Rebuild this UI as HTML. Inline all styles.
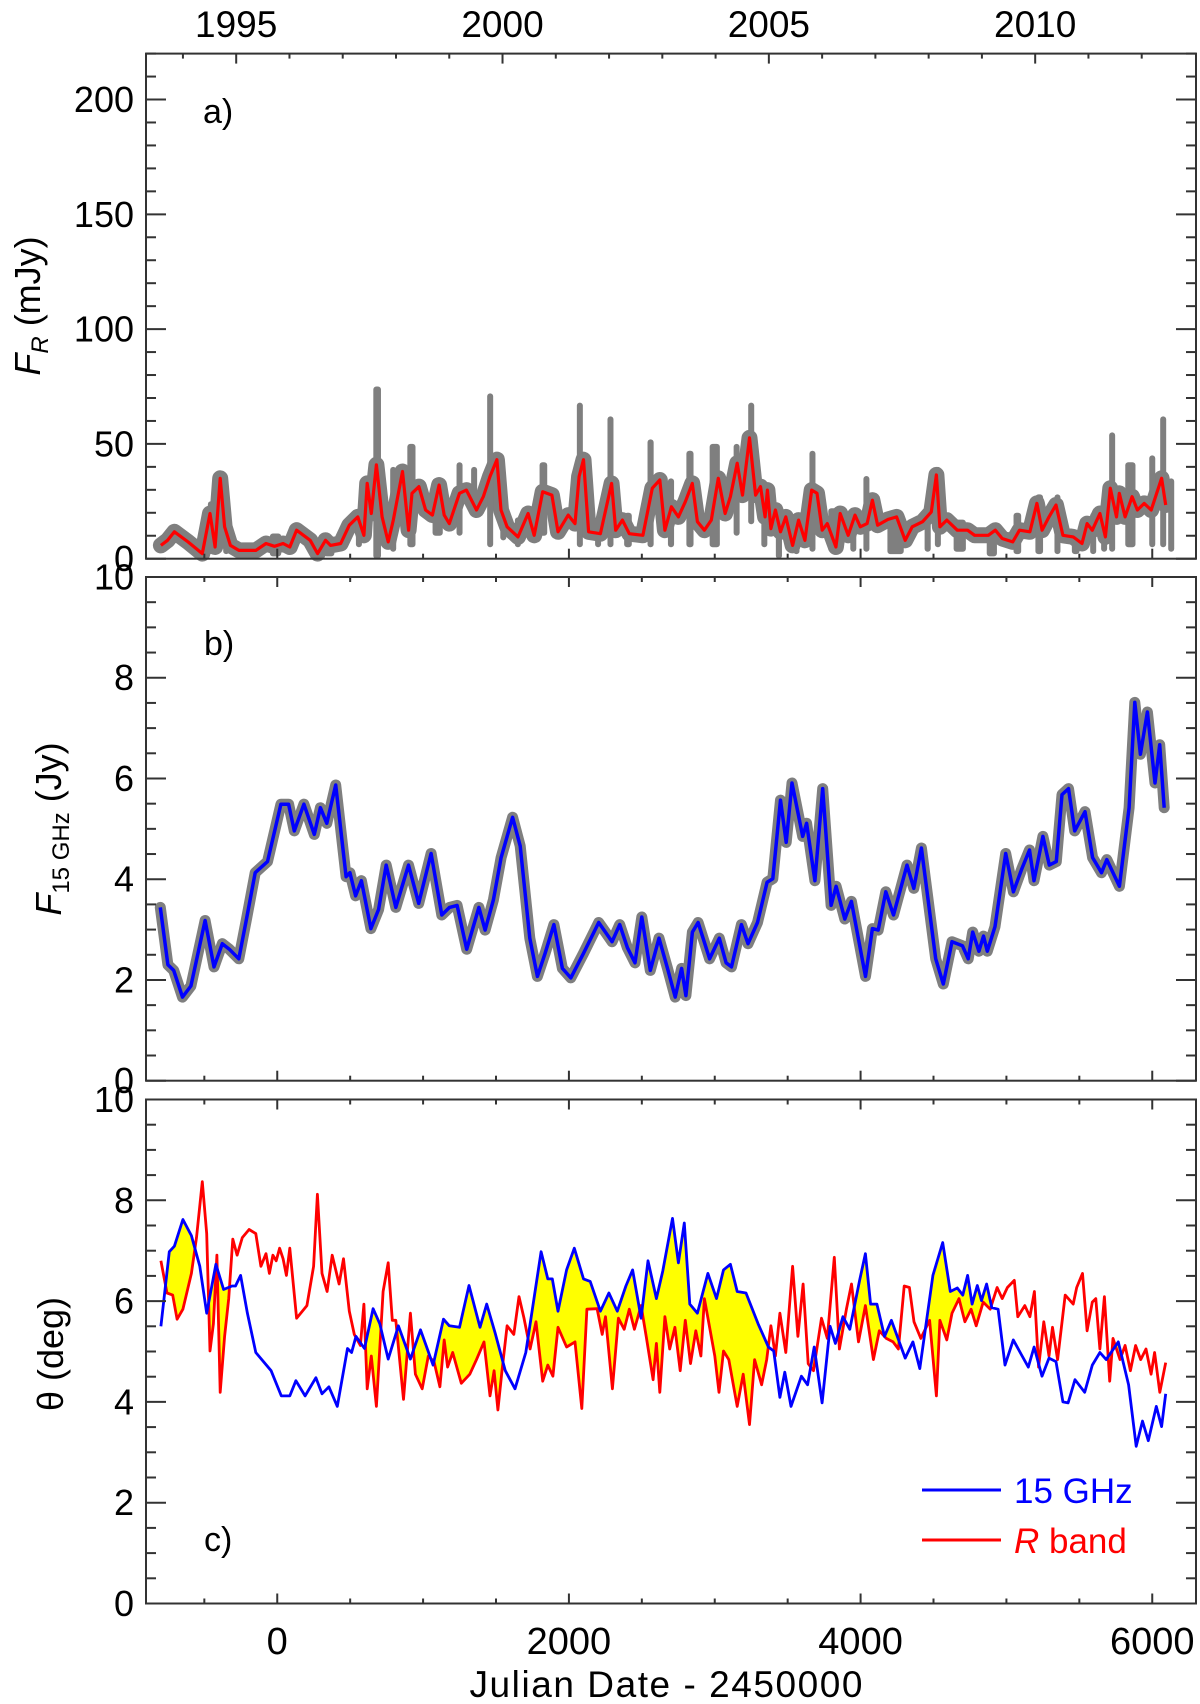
<!DOCTYPE html>
<html><head><meta charset="utf-8"><style>
html,body{margin:0;padding:0;background:#fff}
svg{display:block}
text{font-family:"Liberation Sans",Arial,sans-serif;fill:#000}
</style></head><body>
<svg id="chart" width="1200" height="1704" viewBox="0 0 1200 1704" xmlns="http://www.w3.org/2000/svg">
<defs></defs>
<g id="layer"></g>
</svg>
<script>
// ---- Panel a: R-band flux (mJy) smoothed curve ----
const aRedJD=[-798,-752,-705,-612,-514,-461,-426,-391,-361,-321,-263,-147,-77,-19,40,86,133,226,277,331,365,435,494,552,594,617,645,680,719,761,796,859,901,924,971,1017,1064,1110,1145,1180,1250,1297,1366,1413,1459,1506,1534,1576,1651,1720,1762,1820,1883,1925,1995,2042,2070,2100,2135,2216,2293,2321,2367,2414,2507,2572,2623,2658,2703,2751,2798,2846,2881,2929,2976,3024,3071,3107,3154,3190,3238,3280,3314,3345,3361,3385,3416,3451,3487,3534,3575,3618,3665,3701,3737,3772,3831,3860,3915,3962,3998,4045,4081,4117,4188,4247,4306,4354,4425,4485,4520,4544,4591,4663,4734,4782,4876,4924,4971,5043,5090,5161,5209,5245,5292,5340,5387,5458,5518,5553,5589,5641,5679,5712,5755,5774,5814,5862,5898,5945,5993,6064,6092];
const aRedF=[5.8,8.0,11.7,7.3,2.2,19.7,5.1,35,13.9,5.8,3.6,3.6,6.6,5.4,6.6,5.1,12.4,8.0,2.2,8.0,5.8,6.6,14.6,18.2,10.2,32.8,19.7,40.9,18.2,7.3,16.8,38,12.4,28.5,31.4,21.2,19.0,32.1,19.0,15.3,28.5,29.9,21.2,27.0,35.8,43.1,21.2,13.9,9.5,19.7,10.2,29.2,27.7,11.7,19.0,15.3,35.8,43.1,11.7,10.9,32.8,12.4,16.8,10.9,10.2,30.7,34.3,12.4,22.6,18.2,24.8,32.8,16.1,12.4,16.8,35,19.7,27.0,41.6,27.7,52.6,27.7,31.4,18.2,29.9,13.1,21.2,11.7,18.2,5.8,16.8,8.0,29.9,28.5,12.4,15.3,5.1,19.7,10.2,19.0,13.9,15.3,25.5,14.6,17.1,18.2,8.0,13.9,16.1,20.4,36.5,13.9,16.8,12.4,12.4,10.2,10.2,12.4,8.8,7.3,12.4,11.7,24.1,12.4,18.2,23.4,10.2,9.5,6.6,15.3,12.4,19.7,9.5,30.7,18.2,28.5,18.2,27.0,21.2,24.1,21.2,35,23.4];
// grey photometry envelopes: start JD, end JD, low, high
const aGreyStart=[-810,-470,-400,-123,250,520,610,760,840,1000,1200,1300,1420,1500,1600,1750,2030,2150,2250,2330,2500,2640,2760,2900,3100,3200,3300,3380,3500,3620,3720,3900,4000,4080,4400,4500,4560,4800,5000,5150,5300,5400,5550,5640,5700,5750,5950,6050,6100];
const aGreyEnd=[-740,-440,-300,100,460,600,760,830,1000,1200,1300,1400,1500,1600,1700,1900,2120,2250,2320,2480,2620,2760,2900,3100,3200,3300,3380,3500,3620,3720,3900,4000,4080,4400,4520,4560,4800,5000,5150,5300,5400,5550,5640,5700,5750,5950,6050,6100,6160];
const aGreyLow=[4,2,2,1,1,5,0,3,5,10,10,20,5,8,5,10,5,5,5,5,5,5,5,5,10,15,5,0,2,3,3,3,3,2,3,5,3,1,2,2,2,2,2,3,3,5,5,5,3];
const aGreyHigh=[8,25,20,11,9,22,75,40,50,35,42,40,72,22,18,42,68,18,62,20,52,35,47,50,50,68,30,12,18,47,22,20,36,20,20,40,17,12,20,28,28,12,20,20,55,42,45,62,35];

// ---- Panel b: 15 GHz flux (Jy) ----
const bJD=[-802,-750,-710,-650,-592,-495,-434,-377,-329,-264,-211,-151,-67,25,78,117,183,254,296,340,401,472,498,537,577,642,695,747,813,900,970,1055,1128,1181,1233,1299,1383,1425,1482,1535,1614,1666,1732,1784,1837,1897,1955,2013,2100,2204,2296,2348,2401,2453,2500,2558,2618,2676,2729,2773,2802,2847,2886,2965,3031,3078,3115,3183,3228,3293,3359,3398,3451,3490,3530,3603,3630,3687,3740,3798,3832,3892,3937,4034,4081,4121,4173,4226,4318,4365,4417,4515,4567,4627,4698,4738,4769,4811,4843,4869,4922,4995,5048,5105,5158,5189,5250,5294,5342,5381,5426,5468,5539,5591,5652,5688,5775,5841,5880,5919,5967,6019,6051,6082];
const bFlux=[3.44,2.30,2.19,1.66,1.88,3.18,2.26,2.72,2.61,2.42,3.21,4.13,4.35,5.49,5.49,4.96,5.49,4.89,5.42,5.11,5.87,4.05,4.13,3.67,3.97,3.02,3.40,4.28,3.44,4.28,3.52,4.51,3.29,3.44,3.48,2.61,3.44,2.99,3.59,4.43,5.23,4.66,2.83,2.07,2.53,3.10,2.23,2.04,2.53,3.14,2.76,3.10,2.64,2.34,3.25,2.19,2.83,2.23,1.66,2.23,1.69,2.95,3.14,2.42,2.83,2.34,2.26,3.10,2.72,3.14,3.94,4.01,5.57,4.73,5.91,4.85,5.11,3.97,5.80,3.48,3.86,3.21,3.56,2.07,3.02,2.99,3.75,3.29,4.28,3.82,4.62,2.42,1.92,2.76,2.68,2.42,2.95,2.57,2.87,2.57,3.06,4.51,3.75,4.20,4.58,3.97,4.85,4.28,4.35,5.68,5.80,4.96,5.34,4.43,4.13,4.39,3.86,5.42,7.51,6.48,7.32,5.91,6.67,5.42];

// ---- Panel c: viewing angle (deg) ----
const cBlueJD=[-798,-740,-705,-647,-589,-531,-484,-421,-368,-310,-286,-251,-205,-147,-42,28,86,128,191,265,307,354,412,482,510,540,598,657,703,761,831,913,982,1069,1140,1180,1250,1315,1390,1436,1494,1564,1630,1704,1809,1855,1886,1925,1984,2037,2100,2146,2216,2274,2332,2391,2437,2495,2542,2600,2644,2710,2751,2791,2829,2881,2953,3012,3060,3107,3154,3214,3297,3368,3404,3447,3480,3523,3594,3637,3682,3736,3791,3827,3879,3926,3993,4033,4069,4112,4164,4211,4306,4359,4406,4496,4563,4615,4663,4701,4734,4765,4800,4829,4864,4900,4943,4990,5047,5102,5150,5190,5244,5292,5340,5387,5423,5470,5537,5589,5641,5684,5767,5838,5890,5933,5973,6028,6064,6092];
const cBlueDeg=[5.5,6.98,7.09,7.62,7.3,6.69,5.76,6.73,6.23,6.3,6.3,6.51,5.76,4.98,4.62,4.12,4.12,4.42,4.12,4.48,4.16,4.3,3.91,5.06,4.98,5.3,5.06,5.85,5.55,4.85,5.51,4.85,5.43,4.73,5.64,5.51,5.48,6.31,5.48,5.94,5.37,4.62,4.26,4.98,6.98,6.44,6.44,5.8,6.62,7.05,6.44,6.39,5.8,6.16,5.8,6.3,6.62,5.66,6.8,6.05,6.6,7.64,6.76,7.55,5.94,5.76,6.55,6.05,6.62,6.73,6.19,6.16,5.55,5.09,5.01,4.09,4.59,3.91,4.51,4.34,5.09,3.98,5.5,5.16,5.69,5.44,6.41,6.94,5.94,5.94,5.3,5.62,4.87,5.19,4.66,6.51,7.16,6.19,6.26,6.12,6.51,5.94,6.31,6.01,6.34,5.87,5.84,4.73,5.23,4.94,4.69,5.09,4.51,4.87,4.8,4.0,3.98,4.44,4.19,4.73,4.98,4.84,5.19,4.34,3.12,3.62,3.23,3.91,3.51,4.16];
const cRedJD=[-798,-756,-717,-687,-647,-589,-554,-514,-484,-461,-438,-414,-391,-361,-333,-305,-275,-240,-193,-147,-112,-77,-54,-30,-7,16,40,63,86,133,203,249,275,307,342,377,424,454,494,528,570,594,617,645,680,726,761,789,813,866,913,947,994,1036,1075,1115,1145,1168,1203,1262,1320,1366,1418,1459,1487,1513,1541,1576,1622,1658,1692,1734,1774,1820,1855,1890,1925,1984,2042,2088,2123,2193,2228,2251,2298,2339,2379,2414,2449,2495,2530,2577,2600,2623,2658,2691,2727,2763,2798,2834,2870,2905,2929,2965,3000,3029,3060,3096,3154,3195,3238,3273,3321,3356,3385,3416,3447,3487,3534,3570,3606,3641,3677,3732,3772,3820,3855,3903,3938,3986,4033,4088,4128,4176,4223,4259,4299,4335,4366,4413,4473,4520,4544,4591,4627,4675,4715,4758,4793,4841,4889,4936,4971,5007,5054,5078,5126,5161,5192,5221,5256,5292,5316,5351,5403,5458,5482,5522,5553,5589,5613,5641,5672,5708,5731,5779,5814,5850,5886,5921,5957,5992,6016,6052,6092];
const cRedDeg=[6.8,6.16,6.12,5.64,5.84,6.55,7.26,8.37,7.34,5.01,5.55,6.91,4.19,5.3,6.05,7.23,6.91,7.26,7.42,7.34,6.69,6.94,6.55,6.91,6.8,7.05,6.84,6.51,7.05,5.66,5.91,6.69,8.12,6.55,6.19,6.91,6.34,6.84,5.8,5.34,5.12,5.94,4.26,4.91,3.91,6.19,6.76,5.62,5.62,4.05,5.76,4.55,4.26,4.91,4.8,4.3,5.23,4.69,4.98,4.37,4.55,4.84,5.19,4.12,4.62,3.84,4.62,5.51,5.34,6.09,5.66,5.05,5.59,4.41,4.73,4.51,5.48,5.09,5.19,3.87,5.84,5.85,5.34,5.69,4.26,5.66,5.44,5.84,5.44,5.91,5.3,4.44,5.16,4.19,5.69,5.05,5.48,4.62,5.62,4.76,5.41,4.91,6.05,5.48,4.91,4.19,5.01,4.84,3.91,4.55,3.55,4.84,4.34,4.84,5.51,4.91,5.76,4.98,6.69,5.3,6.34,4.76,4.62,5.66,5.26,6.87,5.05,5.84,6.34,5.19,5.91,4.84,5.41,5.26,5.19,5.05,6.3,6.27,5.59,5.26,5.62,4.12,5.62,5.23,5.76,6.05,5.59,5.84,5.51,5.98,5.84,6.27,6.05,6.27,6.41,5.69,5.91,5.69,6.19,4.69,5.59,4.91,5.48,4.84,6.12,5.94,6.27,6.55,5.41,5.98,6.05,5.05,6.09,4.41,5.26,4.84,5.12,4.62,5.12,4.84,5.05,4.55,4.98,4.19,4.78];

// axis label arrays
const xTickLabels=["0","2000","4000","6000"];
const yearLabels=["1995","2000","2005","2010"];
const aYLabels=["0","50","100","150","200"];
const bcYLabels=["0","2","4","6","8","10"];

const NS="http://www.w3.org/2000/svg";
const root=document.getElementById('layer');
const L=146,R=1196;
const X=j=>L+(j+900)/7200*(R-L);
const P={a:{t:53.6,b:558.7,max:220},b:{t:577,b:1080.7,max:10},c:{t:1099.5,b:1603.5,max:10}};
const Y=(p,v)=>p.b-(v/p.max)*(p.b-p.t);
function mk(tag,attrs,parent){const e=document.createElementNS(NS,tag);for(const k in attrs)e.setAttribute(k,attrs[k]);(parent||root).appendChild(e);return e;}
function pathD(xs,ys,p){return xs.map((j,i)=>(i?'L':'M')+X(j).toFixed(1)+','+Y(p,ys[i]).toFixed(1)).join('');}

// ---- panel a data ----
const ga=mk('g',{});


const aBand=mk('path',{d:pathD(aRedJD,aRedF,P.a),fill:'none',stroke:'#7f7f7f','stroke-width':16,'stroke-linejoin':'round','stroke-linecap':'round'},ga);


aGreyStart.forEach((s,i)=>{
  const w=X(aGreyEnd[i])-X(s);
  const cx=X(s)+w/2;
  const bw=Math.max(6,w*0.35);
  const r=mk('rect',{x:cx-bw/2,y:Y(P.a,aGreyHigh[i]),width:bw,height:Y(P.a,aGreyLow[i])-Y(P.a,aGreyHigh[i]),rx:3,fill:'#7f7f7f'},ga);
  
  
});
const aLine=mk('path',{d:pathD(aRedJD,aRedF,P.a),fill:'none',stroke:'#ff0000','stroke-width':3.2,'stroke-linejoin':'round'});



// ---- panel b data ----
const bGrey=mk('path',{d:pathD(bJD,bFlux,P.b),fill:'none',stroke:'#7f7f7f','stroke-width':11,'stroke-linejoin':'round','stroke-linecap':'round'});


const bLine=mk('path',{d:pathD(bJD,bFlux,P.b),fill:'none',stroke:'#0000ff','stroke-width':3.5,'stroke-linejoin':'round'});



// ---- panel c data ----
const defs=document.querySelector('defs');
const cp=mk('clipPath',{id:'belowBlue'},defs);
const blueD=pathD(cBlueJD,cBlueDeg,P.c);
mk('path',{d:blueD+'L'+X(cBlueJD[cBlueJD.length-1])+','+P.c.b+'L'+X(cBlueJD[0])+','+P.c.b+'Z'},cp);
const redD=pathD(cRedJD,cRedDeg,P.c);
const fill=mk('path',{d:redD+'L'+X(cRedJD[cRedJD.length-1])+','+P.c.t+'L'+X(cRedJD[0])+','+P.c.t+'Z',fill:'#ffff00','clip-path':'url(#belowBlue)'});


const cRed=mk('path',{d:redD,fill:'none',stroke:'#ff0000','stroke-width':2.8,'stroke-linejoin':'round'});


const cBlue=mk('path',{d:blueD,fill:'none',stroke:'#0000ff','stroke-width':2.8,'stroke-linejoin':'round'});



// ---- axes ----
const AX='#333';
['a','b','c'].forEach(k=>{
  const p=P[k];
  const g=mk('g',{});
  
  
  mk('rect',{x:L,y:p.t,width:R-L,height:p.b-p.t,fill:'none',stroke:AX,'stroke-width':2},g);
  for(let j=-500;j<=6000;j+=500){
    const maj=j%2000===0, len=maj?10:5, x=X(j);
    mk('line',{x1:x,x2:x,y1:p.b,y2:p.b-len,stroke:AX,'stroke-width':2},g);
    if(k!=='a') mk('line',{x1:x,x2:x,y1:p.t,y2:p.t+len,stroke:AX,'stroke-width':2},g);
  }
  if(k==='a'){
    for(let yr=1994;yr<=2012;yr++){
      const j=-281.5+(yr-1995)*365.25, x=X(j), maj=yr%5===0, len=maj?10:5;
      mk('line',{x1:x,x2:x,y1:p.t,y2:p.t+len,stroke:AX,'stroke-width':2},g);
    }
  }
  const minor=k==='a'?10:0.5, major=k==='a'?50:2;
  for(let v=0;v<=p.max+1e-6;v+=minor){
    const y=Y(p,v), maj=Math.abs(v/major-Math.round(v/major))<1e-6, len=maj?20:10;
    mk('line',{x1:L,x2:L+len,y1:y,y2:y,stroke:AX,'stroke-width':2},g);
    mk('line',{x1:R,x2:R-len,y1:y,y2:y,stroke:AX,'stroke-width':2},g);
  }
  const labs=k==='a'?aYLabels:bcYLabels;
  labs.forEach((s,i)=>{
    const t=mk('text',{x:134,y:Y(p,i*major)+12.5,'text-anchor':'end','font-size':36});
    t.textContent=s;
    
    
  });
});
xTickLabels.forEach((s,i)=>{
  const t=mk('text',{x:X(i*2000),y:1654,'text-anchor':'middle','font-size':38});
  t.textContent=s;
  
  
});
yearLabels.forEach((s,i)=>{
  const t=mk('text',{x:X(-281.5+i*5*365.25),y:37,'text-anchor':'middle','font-size':37});
  t.textContent=s;
  
  
});
</script>
<svg style="position:absolute;left:0;top:0" width="1200" height="1704">
<text x="203" y="123" font-size="34">a)</text>
<text x="204" y="655" font-size="34">b)</text>
<text x="204" y="1551" font-size="34">c)</text>
<text transform="translate(40,306) rotate(-90)" text-anchor="middle" font-size="36"><tspan font-style="italic">F</tspan><tspan font-style="italic" font-size="24" dy="8">R</tspan><tspan dy="-8"> (mJy)</tspan></text>
<text transform="translate(61,829) rotate(-90)" text-anchor="middle" font-size="36"><tspan font-style="italic">F</tspan><tspan font-size="24" dy="8">15 GHz</tspan><tspan dy="-8"> (Jy)</tspan></text>
<text transform="translate(63,1354) rotate(-90)" text-anchor="middle" font-size="36">θ (deg)</text>
<text x="666" y="1697" text-anchor="middle" font-size="37" textLength="393">Julian Date - 2450000</text>
<g>
<line x1="922" x2="1001" y1="1490" y2="1490" stroke="#0000ff" stroke-width="3"/>
<text x="1014" y="1503" font-size="35" style="fill:#0000ff">15 GHz</text>
<line x1="922" x2="1001" y1="1540" y2="1540" stroke="#ff0000" stroke-width="3"/>
<text x="1014" y="1553" font-size="35" style="fill:#ff0000"><tspan font-style="italic">R</tspan> band</text>
</g>
</svg>
</body></html>
